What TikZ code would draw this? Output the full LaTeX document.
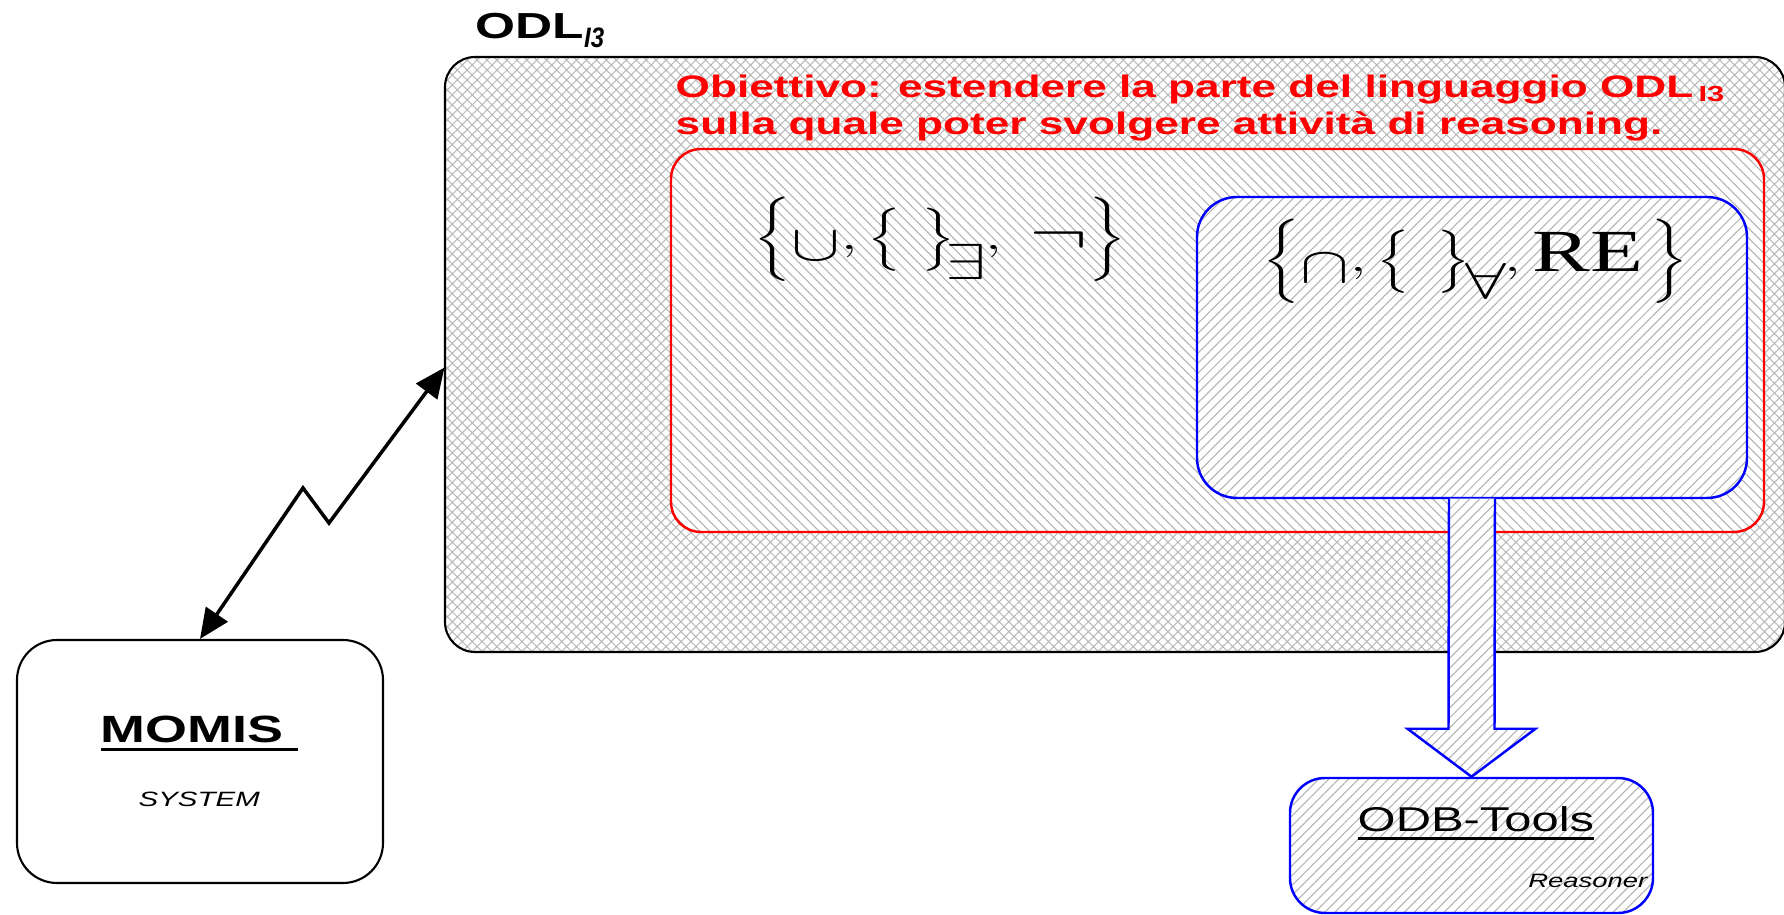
\documentclass[tikz,border=0pt]{standalone}
\usepackage{fontspec}
\setmainfont{Liberation Serif}
\setsansfont{Liberation Sans}[FakeStretch=1.42]
\usetikzlibrary{arrows.meta, positioning, calc, patterns.meta}

% thick underline for the system names
\newcommand{\thickul}[1]{\setbox0\hbox{#1}\rlap{\rule[-2.2pt]{\wd0}{0.8pt}}\box0}
% the set expressions are drawn wide, as in the original
\newcommand{\widemath}[1]{\scalebox{1.45}[1]{$#1$}}
% one big, lowered operator symbol of a set expression
\newcommand{\bigsym}[3]{\lower#1\hbox{\fontsize{#2}{#2}\selectfont$#3$}}
% narrow italic index of ODL
\newcommand{\odlidx}[1]{\raisebox{-2.3pt}{\scalebox{0.6}[1]{\fontsize{8}{9}\selectfont\itshape #1}}}

\begin{document}
\begin{tikzpicture}[
    x=0.1mm, y=-0.1mm,
    font=\sffamily,
    % Boxes and their fills
    odlbox/.style={draw=black, line width=0.6pt, rounded corners=3mm,
        pattern={Hatch[angle=45, distance=2pt, line width=0.3pt]}, pattern color=gray!55},
    redbox/.style={draw=red, line width=0.7pt, rounded corners=3mm,
        preaction={fill=white},
        pattern={Lines[angle=-45, distance=2pt, line width=0.3pt]}, pattern color=gray!60},
    bluebox/.style={draw=blue, line width=0.7pt, rounded corners=4mm,
        preaction={fill=white},
        pattern={Lines[angle=45, distance=2pt, line width=0.3pt]}, pattern color=gray!60},
    sysbox/.style={draw=black, line width=0.6pt, rounded corners=4mm, fill=white},
    % Texts
    titletxt/.style={inner sep=0pt, font=\sffamily\bfseries\fontsize{10.3}{12}\selectfont},
    goaltxt/.style={text=red, align=left, inner sep=0pt,
        font=\sffamily\bfseries\fontsize{8.85}{10.8}\selectfont},
    setexpr/.style={inner sep=0pt, font=\fontsize{12}{14}\selectfont},
    bigname/.style={inner sep=0pt, font=\sffamily\bfseries\fontsize{10.8}{13}\selectfont},
    smallname/.style={inner sep=0pt, font=\sffamily\itshape\fontsize{5.9}{7}\selectfont},
    % Connectors
    bolt/.style={line width=1pt, {Triangle[length=3mm, width=2.6mm]}-{Triangle[length=3mm, width=2.6mm]}},
    blockarr/.style={draw=blue, line width=0.7pt, preaction={fill=white},
        pattern={Lines[angle=45, distance=2pt, line width=0.3pt]}, pattern color=gray!60}
]
\useasboundingbox (0,0) rectangle (1784,915);

% ===============================
% ODL_I3 language
% ===============================
\node[odlbox, minimum width=13.40cm, minimum height=5.95cm] (odl) at (1115,354.5) {};
\node[titletxt, anchor=base west] (title) at (475,39) {ODL\odlidx{I3}};

\node[goaltxt, anchor=base west] (goal) at (675,135)
    {Obiettivo: estendere la parte del linguaggio ODL\,\textsubscript{I3}\\sulla quale poter svolgere attività di reasoning.};

% Red part and blue (reasoning) part
\node[redbox, minimum width=10.93cm, minimum height=3.83cm] (red) at (1217.5,340.5) {};
\node[bluebox, minimum width=5.50cm, minimum height=3.01cm] (blue) at (1472,347.5) {};

\node[setexpr, anchor=base west] (setA) at (753,250)
    {\widemath{\bigg\{\bigsym{3pt}{13.5}{\cup},\Big\{\hspace{4pt}\Big\}_{\hspace{-2pt}\bigsym{2pt}{14}{\exists}}\hspace{-0.8pt},\hspace{3.5pt}\bigsym{1pt}{16}{\neg}\hspace{0pt}\bigg\}}};
\node[setexpr, anchor=base west] (setB) at (1262,272)
    {\widemath{\bigg\{\bigsym{3pt}{13.5}{\cap},\Big\{\hspace{5pt}\Big\}_{\hspace{-1pt}\bigsym{1pt}{14}{\forall}}\hspace{-0.8pt},\hspace{0.3pt}\mbox{\rmfamily\fontsize{17}{18}\selectfont RE}\hspace{1.5pt}\bigg\}}};

% ===============================
% MOMIS and ODB-Tools
% ===============================
\node[sysbox, minimum width=3.66cm, minimum height=2.43cm] (momis) at (200,761.5) {};
\node[bigname, anchor=base west] (momisname) at (100,743) {\thickul{MOMIS\ }};
\node[smallname, anchor=base west] (momissub) at (138,807) {SYSTEM};

\node[bluebox, rounded corners=3.5mm, minimum width=3.63cm, minimum height=1.35cm] (odb) at (1471.5,845.5) {};
\node[inner sep=0pt, anchor=base west, font=\sffamily\fontsize{9.8}{11}\selectfont] (odbname) at (1357,832) {\thickul{ODB-Tools}};
\node[smallname, anchor=base east, font=\sffamily\itshape\fontsize{5.5}{7}\selectfont] (odbsub) at (1648,888) {Reasoner};

% ===============================
% Connections
% ===============================
\coordinate (peak) at (303,488);
\coordinate (dip) at (329,523);
\draw[bolt] (momis.north) -- (peak) -- (dip) -- ([yshift=-0.13cm]odl.west);

\draw[blockarr] ($(blue.south)+(-23,0)$) -- ($(odb.north)+(-23,-48)$) -- ++(-41,0) -- (odb.north)
    -- ++(64,-48) -- ++(-41,0) -- ($(blue.south)+(23,0)$);
\end{tikzpicture}
\end{document}
